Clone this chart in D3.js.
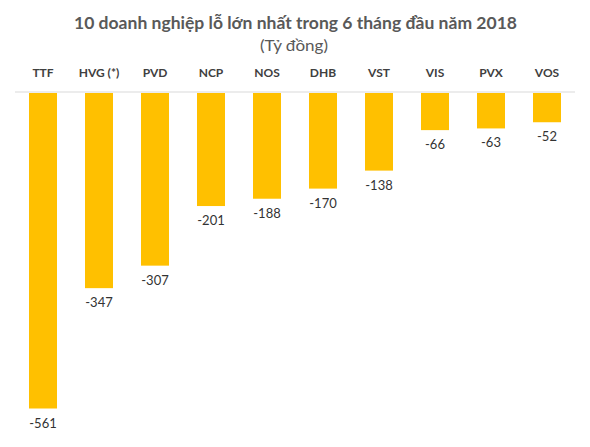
<!DOCTYPE html>
<html><head><meta charset="utf-8">
<script src="https://cdn.jsdelivr.net/npm/d3@7"></script>
<style>body{margin:0;background:#fff;} svg{display:block;}</style>
</head><body>
<svg id="c" width="590" height="447"></svg>
<script>
const categories = ["TTF","HVG (*)","PVD","NCP","NOS","DHB","VST","VIS","PVX","VOS"];
const values = [-561,-347,-307,-201,-188,-170,-138,-66,-63,-52];
const title = "10 doanh nghiệp lỗ lớn nhất trong 6 tháng đầu năm 2018";
const subtitle = "(Tỷ đồng)";

const svg = d3.select("#c");
const font = "Lato, 'Open Sans', 'DejaVu Sans', sans-serif";

const x = d3.scaleBand().domain(categories).range([15, 575]).paddingInner(0.5).paddingOuter(0.25);
const y = d3.scaleLinear().domain([0, -561]).range([93, 408.5]);

svg.append("text").attr("x", 295.5).attr("y", 28.5).attr("text-anchor","middle")
  .attr("font-family", font).attr("font-weight","bold").attr("font-size",17.5)
  .attr("fill","#595959").attr("textLength",443).attr("lengthAdjust","spacingAndGlyphs").text(title);
svg.append("text").attr("x", 294).attr("y", 51).attr("text-anchor","middle")
  .attr("font-family", font).attr("font-size",16)
  .attr("fill","#595959").attr("textLength",68).attr("lengthAdjust","spacingAndGlyphs").text(subtitle);

// category axis at top
const axis = d3.axisTop(x).tickSize(0).tickPadding(0);
const g = svg.append("g").attr("transform","translate(0,77)").call(axis);
g.select(".domain").remove();
g.selectAll("text").attr("font-family", font).attr("font-weight","bold").attr("font-size",12)
  .attr("fill","#404040").attr("dy",0);

svg.append("line").attr("x1",15).attr("x2",575).attr("y1",92).attr("y2",92)
  .attr("stroke","#d9d9d9").attr("stroke-width",1);

const data = categories.map((c,i)=>({c, v: values[i]}));
svg.selectAll("rect.bar").data(data).join("rect").attr("class","bar")
  .attr("x", d=>x(d.c)).attr("width", x.bandwidth())
  .attr("y", y(0)).attr("height", d=>y(d.v)-y(0))
  .attr("fill","#FFC000");

svg.selectAll("text.val").data(data).join("text").attr("class","val")
  .attr("x", d=>x(d.c)+x.bandwidth()/2).attr("y", d=>y(d.v)+19)
  .attr("text-anchor","middle").attr("font-family", font).attr("font-size",13)
  .attr("fill","#333333").text(d=>d3.format("d")(d.v).replace("−","-"));
</script>
</body></html>
